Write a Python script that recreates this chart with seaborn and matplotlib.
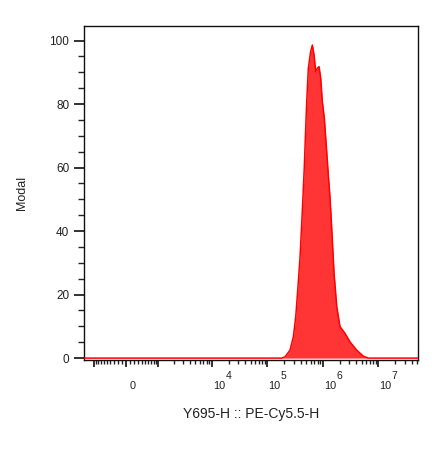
import numpy as np
import pandas as pd
import matplotlib
matplotlib.use("Agg")
import matplotlib.pyplot as plt
import matplotlib.transforms as mtransforms
from matplotlib.ticker import MultipleLocator, FixedLocator
import seaborn as sns

# ---------------- data ----------------
# histogram of PE-Cy5.5 intensity: log10(intensity) vs modal (% of max)
log_intensity = [5.257, 5.316, 5.406, 5.466, 5.509, 5.545, 5.587, 5.617, 5.640,
                 5.664, 5.684, 5.707, 5.736, 5.776, 5.808, 5.839, 5.869, 5.902,
                 5.929, 5.959, 5.988, 6.024, 6.067, 6.096, 6.127, 6.157, 6.199,
                 6.248, 6.307, 6.397, 6.487, 6.608, 6.727, 6.817]
modal_pct = [0.0, 0.4, 2.5, 6.7, 13.0, 21.4, 31.9, 42.5, 51.0,
             60.5, 70.3, 80.8, 91.3, 96.4, 98.6, 95.5, 90.2, 91.4,
             91.8, 88.2, 80.8, 75.6, 65.0, 57.7, 50.5, 41.0, 26.8,
             16.2, 9.9, 7.8, 5.1, 2.5, 0.6, 0.0]
x_range = [-1565.0, 5.15e7]          # displayed intensity range (biexponential)
x_tick_values = [0, 1e4, 1e5, 1e6, 1e7]
x_tick_labels = ["0", "10", "10", "10", "10"]
x_tick_exponents = ["", "4", "5", "6", "7"]
y_ticks = [0, 20, 40, 60, 80, 100]
y_tick_labels = ["0", "20", "40", "60", "80", "100"]
x_label = "Y695-H :: PE-Cy5.5-H"
y_label = "Modal"

# ---------------- frame ----------------
intensity = np.concatenate([[x_range[0]], 10 ** np.array(log_intensity), [x_range[1]]])
modal = np.concatenate([[0.0], modal_pct, [0.0]])
df = pd.DataFrame({"intensity": intensity, "modal": modal})

sns.set_style("ticks")
plt.rcParams["font.family"] = ["Liberation Sans", "DejaVu Sans"]

W = 565.0
def fwd(v):
    return np.arcsinh(np.asarray(v, dtype=float) / W) / np.log(10)
def inv(y):
    return W * np.sinh(np.asarray(y, dtype=float) * np.log(10))

fig = plt.figure(figsize=(4.34, 4.49), dpi=100)
ax = fig.add_axes([84 / 434, 89 / 449, 334 / 434, 334.3 / 449])
ax.set_xscale("function", functions=(fwd, inv))

ax.fill_between(df["intensity"], df["modal"], color="#ff3535", lw=0, zorder=2)
sns.lineplot(data=df, x="intensity", y="modal", ax=ax, color="#ff0000",
             lw=1.1, sort=False, estimator=None, zorder=3)

ax.set_xlim(*x_range)
ax.set_ylim(-0.6, 104.7)

# y ticks
ax.set_yticks(y_ticks)
ax.set_yticklabels(y_tick_labels)
ax.yaxis.set_minor_locator(MultipleLocator(5))
ax.tick_params(axis="y", which="major", length=7, width=1.3, direction="out",
               pad=3.5, labelsize=8.5, colors="#222222")
ax.tick_params(axis="y", which="minor", length=4.3, width=1.0, direction="out",
               color="#222222")

# x ticks (biexponential style)
major_x = [-1000, 0, 1000] + list(x_tick_values[1:])
major_lab = ["", x_tick_labels[0], ""] + list(x_tick_labels[1:])
minor_x = []
for d in range(2, 8):
    for m in range(1, 10):
        v = m * 10 ** d
        if v in major_x:
            continue
        minor_x.append(v)
        if d <= 3:
            minor_x.append(-v)
minor_x = [v for v in minor_x if x_range[0] <= v <= x_range[1]]
ax.xaxis.set_major_locator(FixedLocator(major_x))
ax.xaxis.set_minor_locator(FixedLocator(minor_x))
ax.set_xticklabels(major_lab)
ax.tick_params(axis="x", which="major", length=5, width=1.3, direction="out",
               pad=16, labelsize=7.9, colors="#222222")
ax.tick_params(axis="x", which="minor", length=3.2, width=1.0, direction="out",
               color="#222222")
for lab in ax.get_xticklabels():
    lab.set_horizontalalignment("left")
    lab.set_verticalalignment("baseline")
    dx = 2.3 / 72 if lab.get_text() == "0" else 0.8 / 72
    lab.set_transform(lab.get_transform() + mtransforms.ScaledTranslation(dx, 0, fig.dpi_scale_trans))

# exponents of the decade labels
blend = mtransforms.blended_transform_factory(ax.transData, ax.transAxes)
for v, e in zip(x_tick_values, x_tick_exponents):
    if not e:
        continue
    tr = blend + mtransforms.ScaledTranslation(9.6 / 72, -13.7 / 72, fig.dpi_scale_trans)
    ax.text(v, 0, e, transform=tr, ha="left", va="baseline", fontsize=7.5,
            color="#222222")

for s in ax.spines.values():
    s.set_color("#111111")
    s.set_linewidth(1.0)

ax.set_xlabel(x_label, fontsize=10, color="#222222")
ax.set_ylabel(y_label, fontsize=9, color="#222222")
ax.xaxis.label.set_va("center")
ax.yaxis.label.set_va("center")
ax.xaxis.set_label_coords(0.5, -0.1615)
ax.yaxis.set_label_coords(-0.1865, 0.5)

fig.savefig("out.png", dpi=100, facecolor="white")
